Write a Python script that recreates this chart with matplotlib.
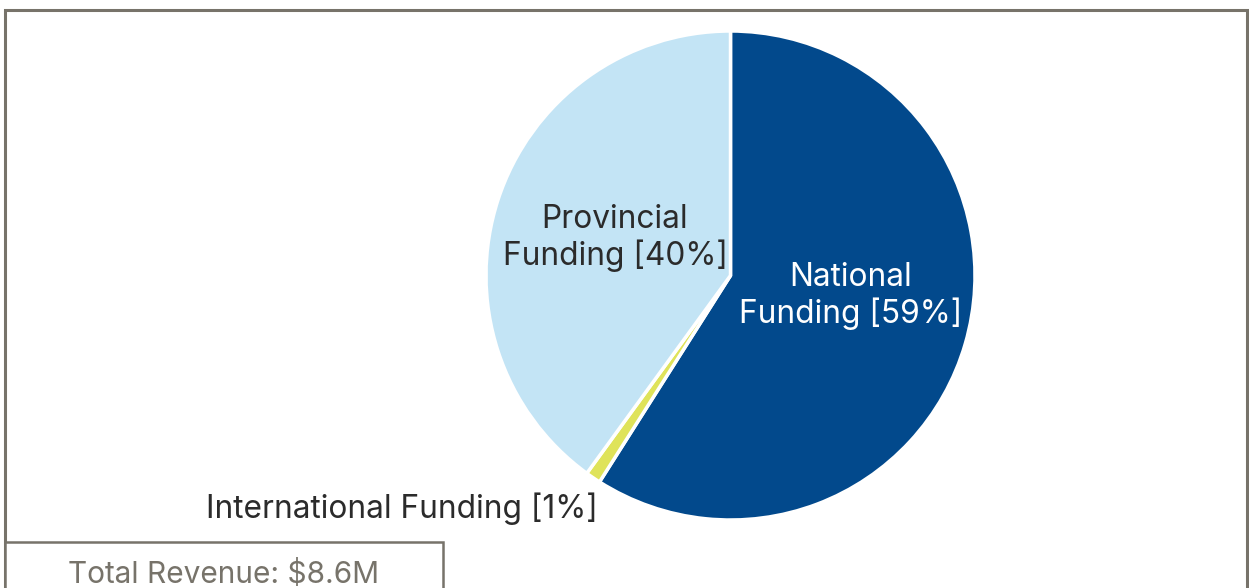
import matplotlib
matplotlib.use("Agg")
import matplotlib.pyplot as plt
from matplotlib.patches import Rectangle

# Revenue breakdown by funding source (percent of total)
categories = ["National\nFunding [59%]", "International Funding [1%]", "Provincial\nFunding [40%]"]
shares = [59, 1, 40]
colors = ["#02498c", "#dfe35a", "#c3e4f5"]
total_label = "Total Revenue: $8.6M"

plt.rcParams["font.family"] = ["Inter", "DejaVu Sans"]

W, H = 1249, 588
fig = plt.figure(figsize=(W / 100, H / 100), dpi=100)
ax = fig.add_axes([0, 0, 1, 1])

cx, cy, r = 730.5, H - 275.5, 244.5
wedges, _ = ax.pie(
    shares, colors=colors, startangle=90, counterclock=False,
    center=(cx, cy), radius=r, frame=True,
    wedgeprops=dict(edgecolor="white", linewidth=2.5),
)
ax.set_xlim(0, W)
ax.set_ylim(0, H)
ax.set_aspect("equal")
ax.axis("off")

# Slice labels
label_size = 22.8
ax.text(851, H - 296, categories[0], ha="center", va="center",
        color="white", fontsize=label_size, linespacing=1.17)
ax.text(615, H - 238, categories[2], ha="center", va="center",
        color="#2b2b2b", fontsize=label_size, linespacing=1.17)
ax.text(402, H - 509, categories[1], ha="center", va="center",
        color="#2b2b2b", fontsize=label_size)

# Outer frame and total box
border = "#77736a"
ax.add_patch(Rectangle((5, -20), 1242, H - 10 + 20, fill=False,
                       edgecolor=border, linewidth=2.2, clip_on=False))
ax.add_patch(Rectangle((5, -20), 438, H - 542 + 20, facecolor="white",
                       edgecolor=border, linewidth=1.8, clip_on=False))
ax.text(224, H - 574, total_label, ha="center", va="center",
        color="#77736a", fontsize=21.5)

fig.savefig("out.png", dpi=100)
